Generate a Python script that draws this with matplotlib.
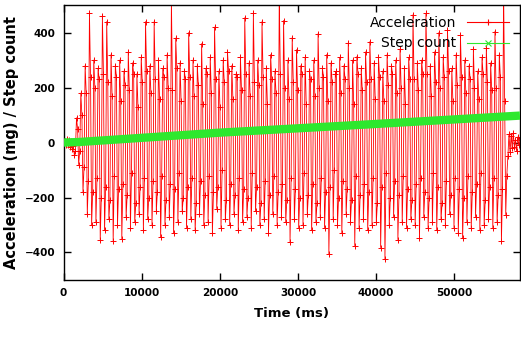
import numpy as np
import matplotlib
matplotlib.use("Agg")
import matplotlib.pyplot as plt
from matplotlib.lines import Line2D

# accelerometer trace, one sample every 138 ms
SAMPLE_MS = 138

# standing still before the walk
idle_before = [0, 6, -10, 12, -8, 10, -18, 4, -25, -12, -45, -30]

# one stride = peak, shoulder, trough, dip (mg)
peaks = [90, 180, 280, 473, 300, 270, 460, 440, 320, 280,
         300, 260, 330, 290, 250, 310, 440, 280, 440, 300,
         270, 320, 520, 380, 290, 260, 400, 300, 280, 360,
         270, 310, 420, 260, 300, 330, 280, 250, 310, 454,
         290, 472, 300, 440, 270, 320, 260, 530, 444, 300,
         382, 338, 280, 310, 260, 300, 396, 270, 320, 290,
         250, 310, 280, 363, 300, 313, 270, 330, 367, 290,
         310, 260, 320, 280, 300, 340, 270, 310, 465, 290,
         300, 470, 280, 330, 400, 310, 410, 270, 320, 390,
         300, 280, 340, 260, 310, 345, 290, 404, 320, 560]
shoulders = [50, 100, 180, 240, 200, 230, 250, 220, 170, 240,
             150, 210, 190, 250, 130, 220, 260, 180, 230, 160,
             240, 200, 190, 270, 150, 230, 240, 170, 210, 140,
             250, 180, 230, 130, 220, 260, 160, 240, 190, 250,
             170, 220, 210, 240, 140, 230, 180, 250, 200, 160,
             220, 190, 250, 140, 230, 170, 200, 240, 150, 220,
             260, 180, 230, 200, 140, 250, 190, 220, 230, 160,
             240, 150, 210, 250, 180, 200, 140, 230, 230, 190,
             250, 250, 170, 220, 200, 240, 260, 150, 210, 240,
             180, 230, 200, 160, 250, 220, 190, 200, 240, 150]
troughs = [-80, -180, -260, -300, -290, -353, -320, -280, -360, -300,
           -350, -270, -310, -290, -260, -320, -280, -300, -250, -345,
           -300, -270, -330, -290, -250, -310, -280, -320, -260, -300,
           -290, -330, -240, -310, -280, -300, -260, -320, -290, -270,
           -310, -250, -300, -280, -330, -260, -300, -270, -290, -363,
           -280, -310, -300, -260, -320, -290, -270, -310, -407, -280,
           -300, -330, -260, -290, -375, -310, -280, -320, -300, -290,
           -382, -425, -300, -270, -353, -290, -310, -280, -300, -349,
           -270, -310, -290, -320, -280, -300, -260, -310, -330, -349,
           -290, -310, -270, -320, -300, -280, -310, -290, -360, -262]
dips = [-30, -90, -140, -180, -130, -200, -160, -210, -120, -170,
        -150, -190, -110, -220, -160, -130, -200, -140, -180, -120,
        -210, -150, -170, -110, -200, -160, -130, -220, -140, -190,
        -120, -180, -160, -100, -210, -150, -190, -130, -170, -200,
        -110, -160, -220, -140, -190, -120, -180, -150, -210, -130,
        -170, -200, -110, -190, -150, -220, -130, -180, -160, -100,
        -200, -140, -170, -210, -120, -190, -150, -180, -130, -220,
        -160, -110, -200, -140, -190, -120, -170, -210, -150, -130,
        -180, -200, -110, -160, -220, -140, -190, -130, -170, -200,
        -120, -180, -150, -110, -210, -160, -130, -190, -170, -120]

# standing still after the walk
idle_after = [-50, 30, -35, 25, -20, 35, -15, 10, -30, 20, -10, 15, 0]

# step counter readings
step_time = [0, 2000, 20000, 39000, 58400]
step_count = [0, 2, 36, 66, 98]

walk = np.column_stack([peaks, shoulders, troughs, dips]).ravel()
accel = np.concatenate([idle_before, walk, idle_after])
t = np.arange(len(accel)) * SAMPLE_MS

red = "#ff0000"
green = "#2ee82e"

fig = plt.figure(figsize=(5.21, 3.41), dpi=100)
ax = fig.add_axes([0.122, 0.179, 0.876, 0.806])

ax.plot(t, accel, color=red, lw=0.6, marker="+", ms=5, mew=0.7, zorder=2)
ax.plot(step_time, step_count, color=green, lw=6, solid_capstyle="butt", zorder=3)

ax.set_xlim(0, 58400)
ax.set_ylim(-500, 500)
ax.set_xticks(range(0, 50001, 10000))
ax.set_yticks(range(-400, 401, 200))
ax.tick_params(direction="in", top=True, right=True, length=5, width=1,
               labelsize=7.5, pad=6)
for lab in ax.get_xticklabels() + ax.get_yticklabels():
    lab.set_fontweight("bold")
for s in ax.spines.values():
    s.set_linewidth(1)

ax.set_xlabel("Time (ms)", fontsize=9.5, fontweight="bold", labelpad=6)
ax.set_ylabel("Acceleration (mg) / Step count", fontsize=10.5, fontweight="bold", labelpad=4)

handles = [Line2D([], [], color=red, lw=0.8, marker="+", ms=5, mew=0.8),
           Line2D([], [], color=green, lw=0.8, marker="x", ms=4, mew=0.8)]
ax.legend(handles, ["Acceleration", "Step count"], loc="upper right",
          frameon=False, markerfirst=False, numpoints=1, handlelength=3,
          fontsize=10, borderaxespad=0.4, labelspacing=0.45)

fig.savefig("out.png", dpi=100)
